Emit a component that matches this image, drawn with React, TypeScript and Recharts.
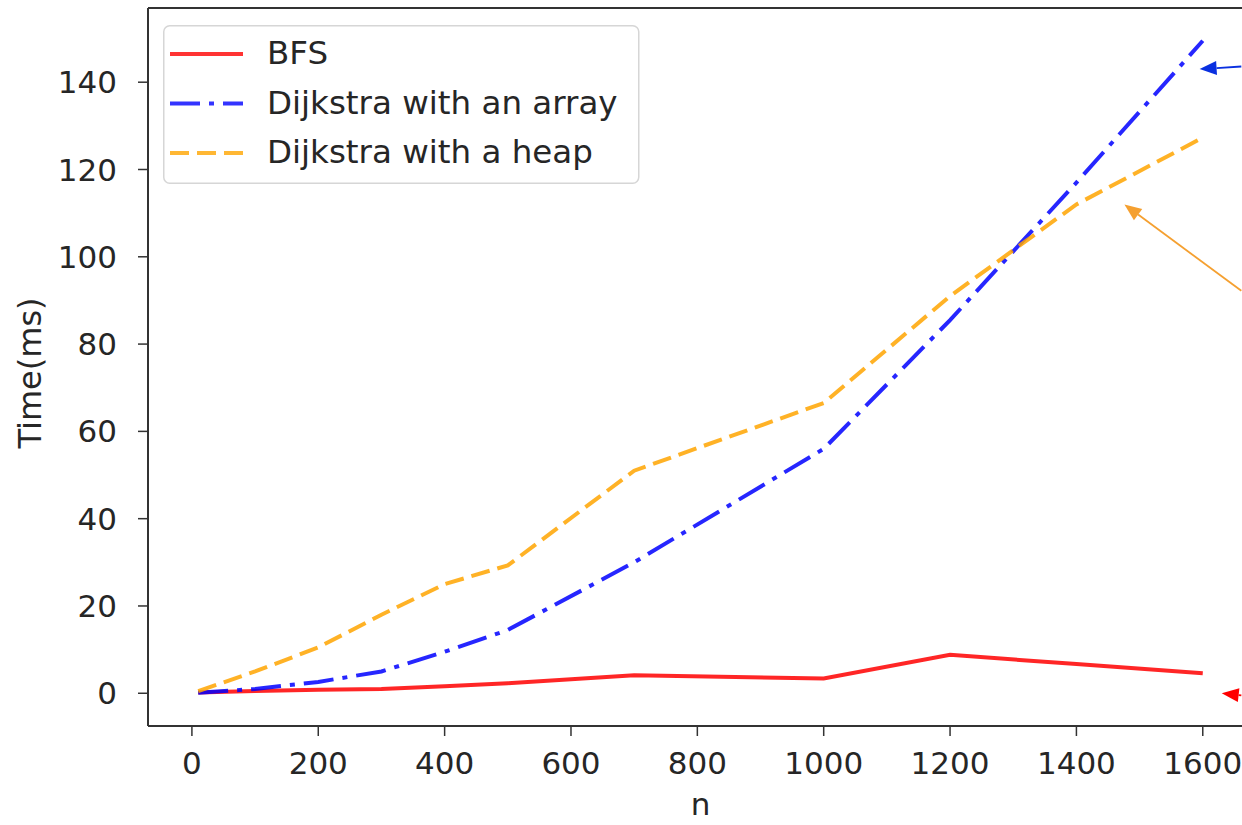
import { Legend, Line, LineChart, ReferenceLine, XAxis, YAxis } from "recharts";

const nValues = [10, 100, 200, 300, 400, 500, 700, 1000, 1200, 1400, 1600];
const bfsTimes = [0.2, 0.5, 0.8, 1.0, 1.6, 2.3, 4.1, 3.4, 8.8, 6.7, 4.6];
const arrayTimes = [0.1, 1.0, 2.6, 5.0, 9.5, 14.5, 30, 56, 85.5, 117, 149.5];
const heapTimes = [0.5, 5.0, 10.5, 18, 25, 29.3, 51, 66.5, 91, 112, 127.3];

const xTicks = [0, 200, 400, 600, 800, 1000, 1200, 1400, 1600];
const yTicks = [0, 20, 40, 60, 80, 100, 120, 140];

const seriesLabels = ["BFS", "Dijkstra with an array", "Dijkstra with a heap"];

// annotation arrows (tail -> head), in data units
const arrowTails = [
  { x: 1661, y: 143.6 },
  { x: 1661, y: 92.2 },
  { x: 1661, y: -0.5 },
];
const arrowHeads = [
  { x: 1595, y: 143 },
  { x: 1476, y: 112 },
  { x: 1630, y: 0 },
];

const X_DOMAIN = [-69.5, 1679.5];
const Y_DOMAIN = [-7.5, 157];

const FONT = "DejaVu Sans";
const TEXT = "#262626";
const AXIS = "#333333";
const RED = "#ff0000";
const BLUE = "#0000ff";
const ORANGE = "#ffa500";
const arrowColors = ["#0a30e0", "#f5a030", "#ff0000"];

const data = nValues.map((n, i) => ({
  n,
  bfs: bfsTimes[i],
  arr: arrayTimes[i],
  heap: heapTimes[i],
}));

const legendRows = [
  { label: seriesLabels[0], color: RED, dash: undefined as string | undefined },
  { label: seriesLabels[1], color: BLUE, dash: "30 9 5 9" },
  { label: seriesLabels[2], color: ORANGE, dash: "19 8" },
];

function LegendBox() {
  return (
    <svg width={477} height={160} style={{ display: "block" }}>
      <rect
        x={0.75}
        y={0.75}
        width={475}
        height={157.5}
        rx={6}
        fill="#ffffff"
        fillOpacity={0.8}
        stroke="#d6d6d6"
        strokeWidth={1.5}
      />
      {legendRows.map((r, i) => (
        <g key={r.label}>
          <line
            x1={7}
            x2={80}
            y1={29 + i * 49.5}
            y2={29 + i * 49.5}
            stroke={r.color}
            strokeOpacity={0.8}
            strokeWidth={4}
            strokeDasharray={r.dash}
          />
          <text
            x={104}
            y={29 + i * 49.5 + 10}
            fontFamily={FONT}
            fontSize={32.5}
            fill={TEXT}
          >
            {r.label}
          </text>
        </g>
      ))}
    </svg>
  );
}

function Arrow(props: any) {
  const { x1, y1, x2, y2, stroke } = props;
  const dx = x2 - x1;
  const dy = y2 - y1;
  const len = Math.hypot(dx, dy) || 1;
  const ux = dx / len;
  const uy = dy / len;
  const hl = 17;
  const hw = 7;
  const bx = x2 - ux * hl;
  const by = y2 - uy * hl;
  const pts = `${x2},${y2} ${bx - uy * hw},${by + ux * hw} ${bx + uy * hw},${by - ux * hw}`;
  return (
    <g>
      <line x1={x1} y1={y1} x2={bx} y2={by} stroke={stroke} strokeWidth={1.8} />
      <polygon points={pts} fill={stroke} />
    </g>
  );
}

function YLabel(props: any) {
  const vb = props.viewBox || {};
  const cx = 30;
  const cy = (vb.y ?? 0) + (vb.height ?? 0) / 2 + 6;
  return (
    <text
      x={cx}
      y={cy}
      transform={`rotate(-90 ${cx} ${cy})`}
      textAnchor="middle"
      dominantBaseline="central"
      fontFamily={FONT}
      fontSize={32}
      fill={TEXT}
    >
      Time(ms)
    </text>
  );
}

export default function App() {
  const tick = { fontSize: 31, fill: TEXT, fontFamily: FONT };
  return (
    <div
      style={{
        position: "absolute",
        left: 0,
        top: 0,
        width: 1242,
        height: 825,
        overflow: "hidden",
        background: "#ffffff",
      }}
    >
      <LineChart
        width={1300}
        height={825}
        data={data}
        margin={{ top: 8, right: 47, bottom: 0, left: 8 }}
      >
        <XAxis
          dataKey="n"
          type="number"
          domain={X_DOMAIN}
          allowDataOverflow
          ticks={xTicks}
          interval={0}
          height={99}
          tick={tick}
          tickSize={10}
          tickMargin={16}
          tickLine={{ stroke: AXIS, strokeWidth: 1.5 }}
          axisLine={{ stroke: AXIS, strokeWidth: 2 }}
          label={{
            value: "n",
            position: "insideBottom",
            offset: 10,
            fontSize: 31,
            fill: TEXT,
            fontFamily: FONT,
          }}
        />
        <YAxis
          type="number"
          domain={Y_DOMAIN}
          allowDataOverflow
          ticks={yTicks}
          interval={0}
          width={140}
          tick={tick}
          tickSize={10}
          tickMargin={21}
          tickLine={{ stroke: AXIS, strokeWidth: 1.5 }}
          axisLine={{ stroke: AXIS, strokeWidth: 2 }}
          label={<YLabel />}
        />
        <ReferenceLine y={Y_DOMAIN[1]} stroke={AXIS} strokeWidth={2} />
        <Legend
          layout="vertical"
          align="center"
          verticalAlign="middle"
          wrapperStyle={{ position: "absolute", left: 163, top: 25, width: 477, height: 160 }}
          content={() => <LegendBox />}
        />
        <Line
          dataKey="bfs"
          name={seriesLabels[0]}
          type="linear"
          stroke={RED}
          strokeOpacity={0.85}
          strokeWidth={4}
          dot={false}
          isAnimationActive={false}
        />
        <Line
          dataKey="arr"
          name={seriesLabels[1]}
          type="linear"
          stroke={BLUE}
          strokeOpacity={0.85}
          strokeWidth={4}
          strokeDasharray="30 9 5 9"
          dot={false}
          isAnimationActive={false}
        />
        <Line
          dataKey="heap"
          name={seriesLabels[2]}
          type="linear"
          stroke={ORANGE}
          strokeOpacity={0.85}
          strokeWidth={4}
          strokeDasharray="19 8"
          dot={false}
          isAnimationActive={false}
        />
        {arrowTails.map((t, i) => (
          <ReferenceLine
            key={i}
            segment={[t, arrowHeads[i]]}
            stroke={arrowColors[i]}
            ifOverflow="visible"
            shape={<Arrow />}
          />
        ))}
      </LineChart>
    </div>
  );
}
